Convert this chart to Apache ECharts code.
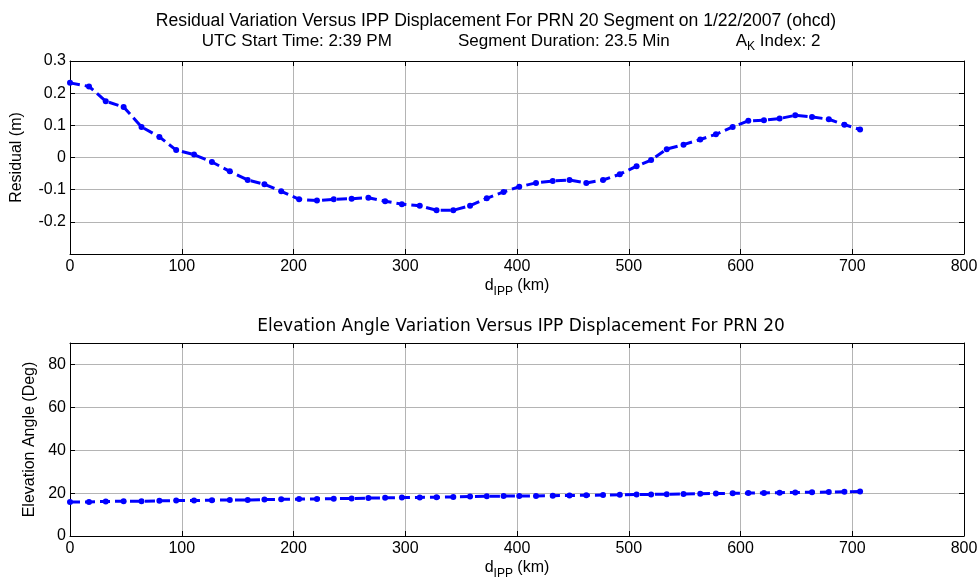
<!DOCTYPE html>
<html>
	<head>
		<meta charset="utf-8">
		<title>Residual vs IPP</title>
		<script src="https://cdn.jsdelivr.net/npm/echarts@6/dist/echarts.min.js"></script>
		<style>
			html, body { margin: 0; padding: 0; background: #fff; }
		</style>
	</head>
	<body>
		<div id="box" style="width: 980px;height: 586px;"></div>
		<script>
			// d_IPP (km) for each sample
			var dIpp = [0, 17, 32, 48, 64, 80, 95, 111, 127, 143, 159, 174, 189, 205, 221, 236, 252, 267, 282, 297,
				313, 328, 343, 358, 373, 388, 402, 417, 432, 447, 462, 477, 492, 507, 520, 534, 549, 564, 578, 593,
				607, 621, 635, 649, 664, 679, 693, 707]
			// residual (m)
			var residual = [0.232, 0.221, 0.175, 0.157, 0.095, 0.064, 0.023, 0.009, -0.014, -0.043,
				-0.070, -0.083, -0.105, -0.130, -0.134, -0.130, -0.128, -0.125, -0.136, -0.145,
				-0.150, -0.164, -0.164, -0.150, -0.127, -0.107, -0.091, -0.079, -0.073, -0.070,
				-0.079, -0.070, -0.052, -0.027, -0.008, 0.026, 0.040, 0.056, 0.072, 0.095,
				0.114, 0.116, 0.121, 0.131, 0.126, 0.119, 0.102, 0.087]
			// elevation angle (deg)
			var elevation = [15.9, 15.9, 16.1, 16.2, 16.2, 16.4, 16.5, 16.5, 16.7, 16.8,
				16.8, 17.0, 17.1, 17.2, 17.3, 17.4, 17.5, 17.7, 17.8, 17.9,
				18.0, 18.1, 18.2, 18.4, 18.5, 18.6, 18.6, 18.7, 18.8, 18.9,
				19.0, 19.1, 19.2, 19.4, 19.4, 19.5, 19.6, 19.7, 19.8, 19.9,
				20.0, 20.1, 20.2, 20.3, 20.4, 20.5, 20.6, 20.7]

			var residualPts = []
			var elevPts = []
			for (var i = 0; i < dIpp.length; i++) {
				residualPts.push([dIpp[i], residual[i]])
				elevPts.push([dIpp[i], elevation[i]])
			}

			var font = 'Liberation Sans, Arial, sans-serif'
			var gridLine = { show: true, lineStyle: { color: '#b4b4b4', width: 1 } }
			var box = { show: true, onZero: false, lineStyle: { color: '#000', width: 1 } }
			var tick = { show: true, inside: true, length: 5, lineStyle: { color: '#000' } }
			var label = { color: '#000', fontSize: 16, fontFamily: font }
			var dName = {
				d: { fontSize: 16, fontFamily: font, color: '#000' },
				s: { fontSize: 12, fontFamily: font, color: '#000', padding: [12, 0, 0, 0] }
			}

			function xBottom(idx) {
				return {
					type: 'value', gridIndex: idx, min: 0, max: 800, interval: 100,
					name: '{d|d}{s|IPP}{d| (km)}', nameLocation: 'middle', nameGap: 20,
					nameTextStyle: { rich: dName },
					axisLine: box, axisTick: tick, splitLine: gridLine,
					axisLabel: Object.assign({ margin: 5 }, label)
				}
			}
			function xTop(idx) {
				return {
					type: 'value', gridIndex: idx, position: 'top', min: 0, max: 800, interval: 100,
					axisLine: box, axisTick: tick, splitLine: { show: false }, axisLabel: { show: false }
				}
			}

			var mCharts = echarts.init(document.querySelector('#box'))
			var series = function (xi, yi, data) {
				return {
					type: 'line', xAxisIndex: xi, yAxisIndex: yi, data: data,
					symbol: 'circle', symbolSize: 6, showSymbol: true,
					itemStyle: { color: '#0000ff' },
					lineStyle: { color: '#0000ff', width: 3, type: [10, 5] },
					animation: false
				}
			}

			var option = {
				backgroundColor: '#fff',
				textStyle: { fontFamily: font },
				title: [
					{
						text: 'Residual Variation Versus IPP Displacement For PRN 20 Segment on 1/22/2007 (ohcd)',
						left: 491, top: 7, textAlign: 'center',
						textStyle: { fontSize: 17.6, fontWeight: 'normal', color: '#000', fontFamily: font }
					},
					{
						text: '{t|UTC Start Time: 2:39 PM              Segment Duration: 23.5 Min              A}{s|K}{t| Index: 2}',
						left: 506, top: 24, textAlign: 'center',
						textStyle: {
							fontWeight: 'normal',
							rich: {
								t: { fontSize: 17, fontWeight: 'normal', color: '#000', fontFamily: font },
								s: { fontSize: 12, fontWeight: 'normal', color: '#000', fontFamily: font, padding: [12, 0, 0, 0] }
							}
						}
					},
					{
						text: 'Elevation Angle Variation Versus IPP Displacement For PRN 20',
						left: 516, top: 313, textAlign: 'center',
						textStyle: { fontSize: 17, fontWeight: 'normal', color: '#000', fontFamily: 'DejaVu Sans, sans-serif' }
					}
				],
				grid: [
					{ left: 70, right: 16, top: 61, height: 193, outerBoundsMode: 'none', containLabel: false },
					{ left: 70, right: 16, top: 343, height: 193, outerBoundsMode: 'none', containLabel: false }
				],
				xAxis: [xBottom(0), xTop(0), xBottom(1), xTop(1)],
				yAxis: [
					{
						type: 'value', gridIndex: 0, min: -0.3, max: 0.3, interval: 0.1,
						name: 'Residual (m)', nameLocation: 'middle', nameGap: 45,
						nameTextStyle: { fontSize: 16, color: '#000', fontFamily: font },
						axisLine: box, axisTick: tick, splitLine: gridLine,
						axisLabel: Object.assign({
							margin: 4,
							formatter: function (v) { return v < -0.25 ? '' : +v.toFixed(1) }
						}, label)
					},
					{
						type: 'value', gridIndex: 0, position: 'right', min: -0.3, max: 0.3, interval: 0.1,
						axisLine: box, axisTick: tick, splitLine: { show: false }, axisLabel: { show: false }
					},
					{
						type: 'value', gridIndex: 1, min: 0, max: 90, interval: 20,
						name: 'Elevation Angle (Deg)', nameLocation: 'middle', nameGap: 32,
						nameTextStyle: { fontSize: 16, color: '#000', fontFamily: font },
						axisLine: box, axisTick: tick, splitLine: gridLine,
						axisLabel: Object.assign({
							margin: 4,
							formatter: function (v) { return v > 85 ? '' : v }
						}, label)
					},
					{
						type: 'value', gridIndex: 1, position: 'right', min: 0, max: 90, interval: 20,
						axisLine: box, axisTick: tick, splitLine: { show: false }, axisLabel: { show: false }
					}
				],
				series: [series(0, 0, residualPts), series(2, 2, elevPts)]
			}
			mCharts.setOption(option)
		</script>
	</body>
</html>
